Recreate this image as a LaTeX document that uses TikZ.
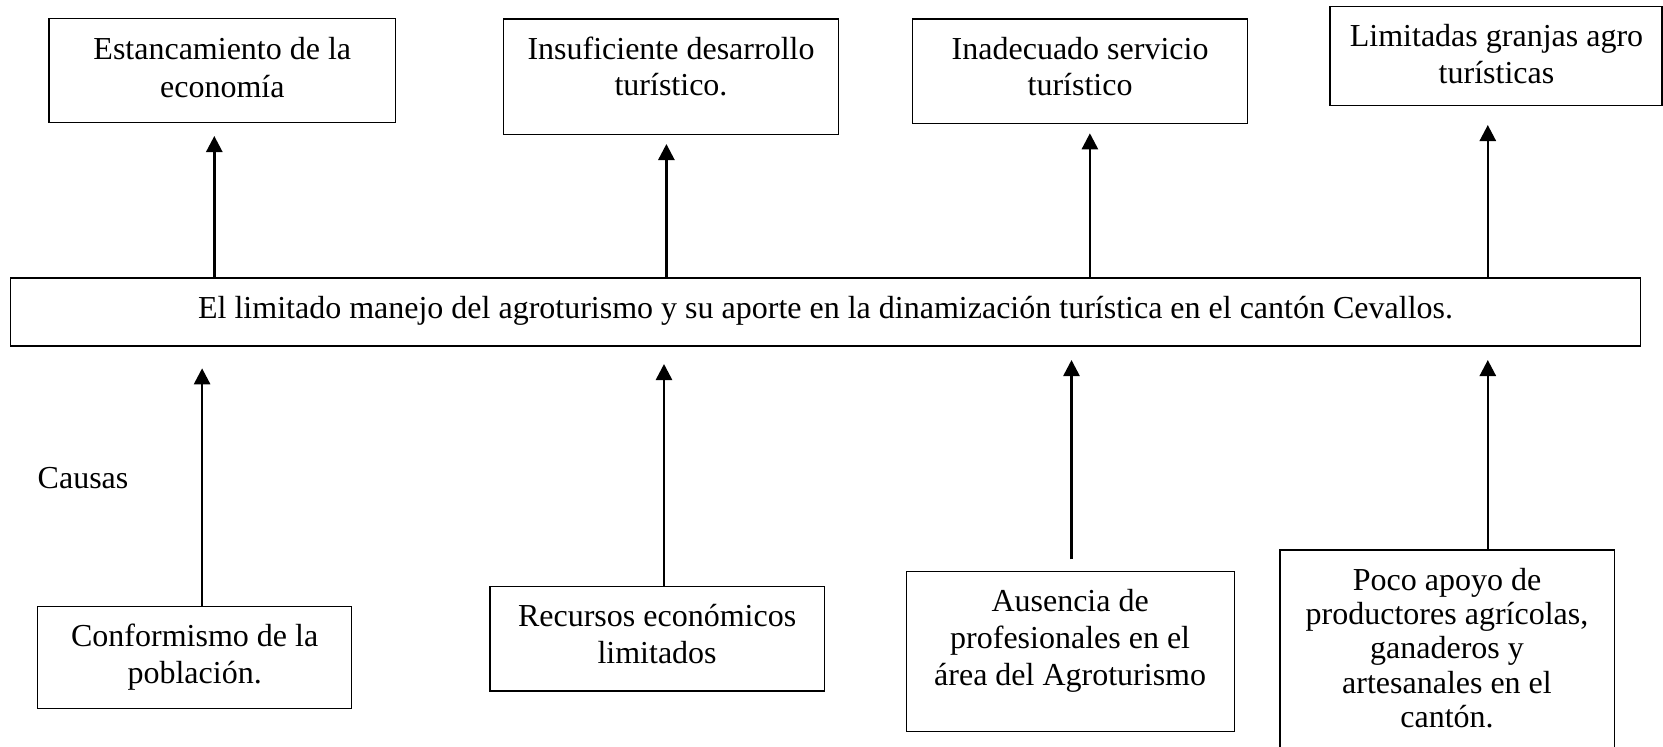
\documentclass[tikz,border=0pt]{standalone}
\usepackage{fontspec}
\setmainfont{Liberation Serif}
\usetikzlibrary{arrows.meta}
\begin{document}
\begin{tikzpicture}[x=1pt,y=-1pt,
  box/.style={draw, line width=1.2pt, inner sep=0pt, outer sep=0pt},
  txt/.style={anchor=north, inner sep=0pt, align=center, font=\fontsize{32}{36.8}\selectfont},
  arr/.style={line width=2.6pt, -{Triangle[width=16pt,length=16pt]}}]
\useasboundingbox (0,0) rectangle (1663,747);
% effects
\node[box, minimum width=346.8pt, minimum height=104pt] (b1) at (222.3,70.7) {};
\node[box, minimum width=334.5pt, minimum height=115.7pt] (b2) at (671,76.85) {};
\node[box, minimum width=334.6pt, minimum height=104.3pt] (b3) at (1080.1,71.15) {};
\node[box, minimum width=332pt, minimum height=98.6pt] (b4) at (1496,56) {};
\node[txt, font=\fontsize{32}{38}\selectfont] (t1) at (222.3,32.9) {\strut Estancamiento de la\\economía};
\node[txt] (t2) at (671,33.2) {\strut Insuficiente desarrollo\\turístico.};
\node[txt] (t3) at (1080.1,33.2) {\strut Inadecuado servicio\\turístico};
\node[txt] (t4) at (1496.5,20.9) {\strut Limitadas granjas agro\\turísticas};
% problem
\node[box, minimum width=1629.6pt, minimum height=68pt] (main) at (825.5,312) {};
\node[txt] (tm) at (825.5,292.5) {\strut El limitado manejo del agroturismo y su aporte en la dinamización turística en el cantón Cevallos.};
% causes
\node[txt, anchor=north west] (causas) at (37.5,462.5) {\strut Causas};
\node[box, minimum width=314.3pt, minimum height=101.6pt] (b5) at (194.65,657.5) {};
\node[box, minimum width=334.4pt, minimum height=104.3pt] (b6) at (657.1,638.85) {};
\node[box, minimum width=327.9pt, minimum height=160pt] (b7) at (1070.15,651.7) {};
\node[box, minimum width=334.2pt, minimum height=200pt] (b8) at (1447,650) {};
\node[txt] (t5) at (194.65,620.9) {\strut Conformismo de la\\población.};
\node[txt] (t6) at (657.1,600.9) {\strut Recursos económicos\\limitados};
\node[txt] (t7) at (1070.15,585.9) {\strut Ausencia de\\profesionales en el\\área del Agroturismo};
\node[txt, font=\fontsize{32}{34.3}\selectfont] (t8) at (1447,566) {\strut Poco apoyo de\\productores agrícolas,\\ganaderos y\\artesanales en el\\cantón.};
% arrow coordinates
\coordinate (h1) at (214.3,136);
\coordinate (h2) at (666.4,144);
\coordinate (h3) at (1089.9,133.3);
\coordinate (h4) at (1487.8,125);
\coordinate (h5) at (202.1,368.3);
\coordinate (h6) at (664,364);
\coordinate (h7) at (1071.5,360);
\coordinate (h8) at (1487.8,360);
\coordinate (s7) at (1071.5,559.3);
\draw[arr] (main.north -| h1) -- (h1);
\draw[arr] (main.north -| h2) -- (h2);
\draw[arr] (main.north -| h3) -- (h3);
\draw[arr] (main.north -| h4) -- (h4);
\draw[arr] (b5.north -| h5) -- (h5);
\draw[arr] (b6.north -| h6) -- (h6);
\draw[arr] (s7) -- (h7);
\draw[arr] (b8.north -| h8) -- (h8);
\end{tikzpicture}
\end{document}
